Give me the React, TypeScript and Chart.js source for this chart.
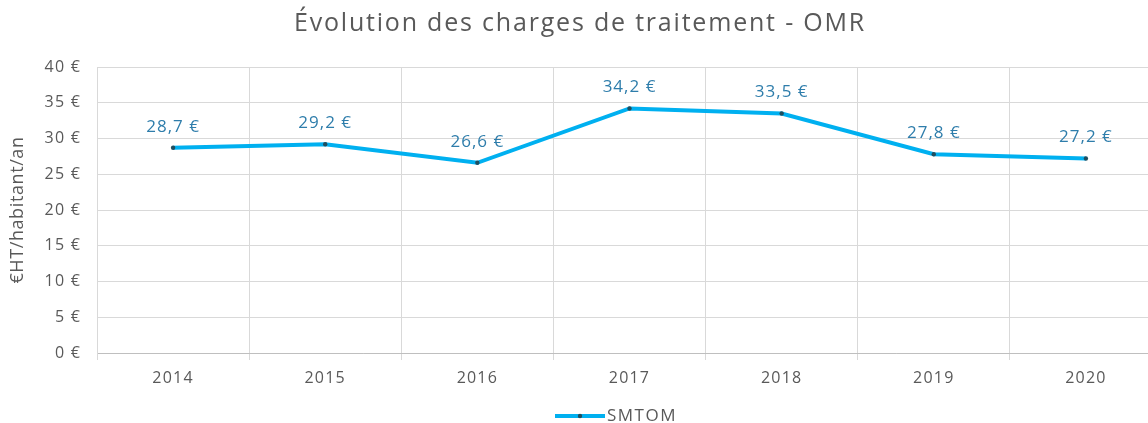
import React, { useEffect, useRef } from "react";
import { Chart, registerables } from "chart.js";

Chart.register(...registerables);

const categories = ["2014", "2015", "2016", "2017", "2018", "2019", "2020"];
const smtomValues = [28.7, 29.2, 26.6, 34.2, 33.5, 27.8, 27.2];
const seriesLabel = "SMTOM";
const chartTitle = "Évolution des charges de traitement - OMR";
const yAxisTitle = "€HT/habitant/an";

const FONT = "'Open Sans', 'Noto Sans', sans-serif";
const TEXT = "#595959";

const fmt = (v: number) => v.toFixed(1).replace(".", ",") + " €";

const spacingPlugin = {
  id: "spacing",
  beforeDraw(chart: any) {
    (chart.ctx as any).letterSpacing = "1.2px";
  },
};

const decorPlugin = {
  id: "decor",
  afterDatasetsDraw(chart: any) {
    const ctx = chart.ctx as any;
    const meta = chart.getDatasetMeta(0);
    const ds = chart.data.datasets[0];
    ctx.save();
    // data labels
    ctx.letterSpacing = "1px";
    ctx.font = `17px ${FONT}`;
    ctx.fillStyle = "#2e7dab";
    ctx.textAlign = "center";
    ctx.textBaseline = "middle";
    meta.data.forEach((pt: any, i: number) => {
      ctx.fillText(fmt(ds.data[i]), pt.x, pt.y - 21);
    });
    // title
    ctx.letterSpacing = "1.8px";
    ctx.font = `25px ${FONT}`;
    ctx.fillStyle = TEXT;
    ctx.fillText(chartTitle, 580, 24);
    // y title
    ctx.save();
    ctx.translate(18, 210);
    ctx.rotate(-Math.PI / 2);
    ctx.letterSpacing = "0.6px";
    ctx.font = `18px ${FONT}`;
    ctx.fillStyle = TEXT;
    ctx.fillText(yAxisTitle, 0, 0);
    ctx.restore();
    // legend
    const ly = 416;
    ctx.strokeStyle = ds.borderColor;
    ctx.lineWidth = 4;
    ctx.beginPath();
    ctx.moveTo(555, ly);
    ctx.lineTo(605, ly);
    ctx.stroke();
    ctx.fillStyle = ds.pointBackgroundColor;
    ctx.beginPath();
    ctx.arc(580, ly, 2.2, 0, Math.PI * 2);
    ctx.fill();
    ctx.letterSpacing = "1.5px";
    ctx.font = `17px ${FONT}`;
    ctx.fillStyle = TEXT;
    ctx.textAlign = "left";
    ctx.fillText(ds.label, 607, ly);
    ctx.restore();
  },
};

export default function App() {
  const ref = useRef<HTMLCanvasElement>(null);
  useEffect(() => {
    document.body.style.margin = "0";
    document.body.style.overflow = "hidden";
    const chart = new Chart(ref.current as HTMLCanvasElement, {
      type: "line",
      data: {
        labels: categories,
        datasets: [
          {
            label: seriesLabel,
            data: smtomValues,
            borderColor: "#00b0f0",
            borderWidth: 4,
            pointRadius: 2.2,
            pointBackgroundColor: "#1f4e5f",
            pointBorderWidth: 0,
            tension: 0,
          },
        ],
      },
      options: {
        animation: false,
        responsive: false,
        layout: { padding: { top: 67, right: 18, left: 0, bottom: 0 } },
        plugins: {
          legend: { display: false },
          title: { display: false },
          tooltip: { enabled: false },
        },
        scales: {
          x: {
            offset: true,
            grid: {
              offset: true,
              color: "#d9d9d9",
              tickLength: 7,
            },
            border: { color: "#bfbfbf" },
            ticks: { color: TEXT, font: { family: FONT, size: 16 }, padding: 9 },
            afterFit(scale: any) {
              scale.height = 70;
            },
          },
          y: {
            min: 0,
            max: 40,
            ticks: {
              stepSize: 5,
              color: TEXT,
              font: { family: FONT, size: 16 },
              padding: 16,
              callback: (v: any) => v + " €",
            },
            grid: { color: "#d9d9d9", drawTicks: false },
            border: { color: "#d9d9d9" },
            afterFit(scale: any) {
              scale.width = 97;
            },
          },
        },
      },
      plugins: [spacingPlugin, decorPlugin],
    });
    return () => chart.destroy();
  }, []);
  return (
    <div style={{ position: "absolute", left: 0, top: 0, width: 1180, height: 423, background: "#fff" }}>
      <canvas ref={ref} width={1180} height={423} />
    </div>
  );
}
